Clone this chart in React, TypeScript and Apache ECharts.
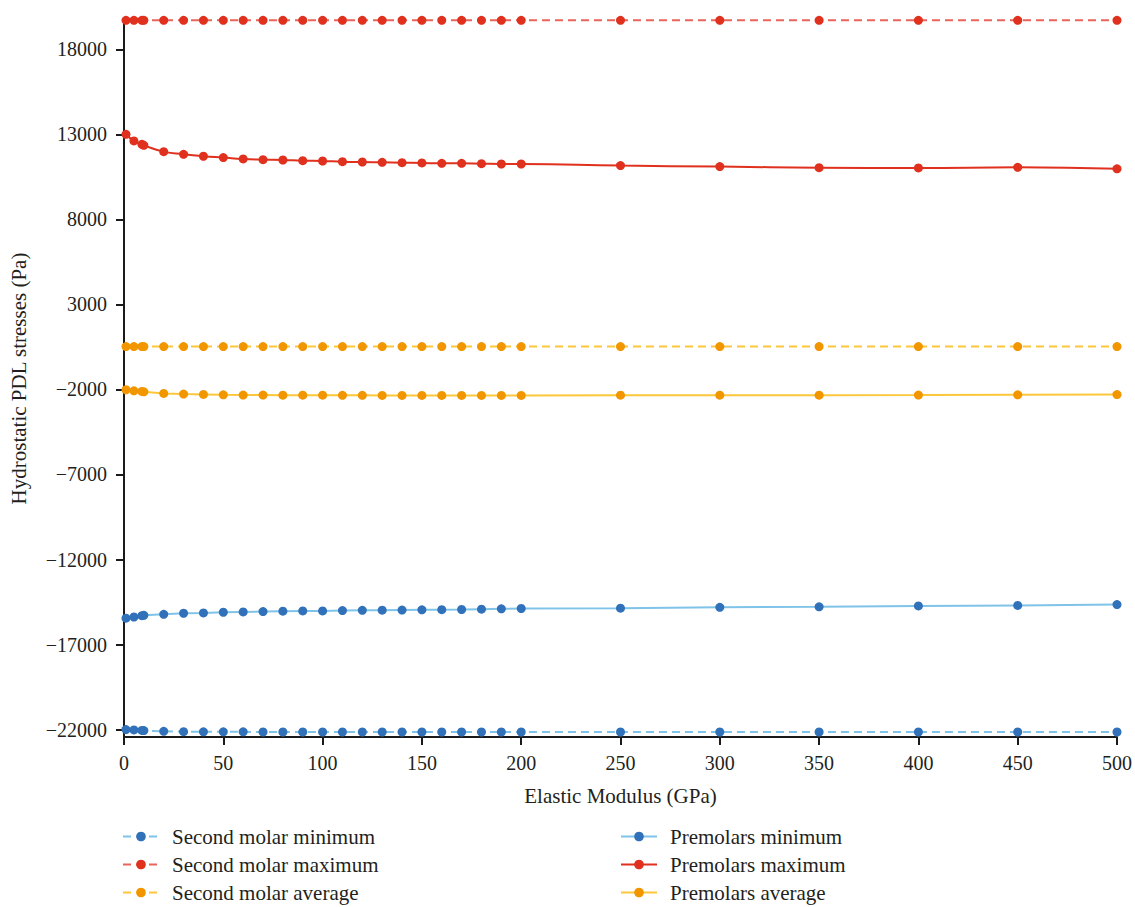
import React, { useEffect, useRef } from "react";
import * as echarts from "echarts";

const xValues = [1, 5, 9, 10, 20, 30, 40, 50, 60, 70, 80, 90, 100, 110, 120, 130, 140, 150, 160, 170, 180, 190, 200, 250, 300, 350, 400, 450, 500];

const secondMolarMin = [-22000, -22020, -22050, -22060, -22100, -22120, -22130, -22130, -22130, -22140, -22140, -22140, -22140, -22140, -22140, -22140, -22140, -22140, -22140, -22140, -22140, -22140, -22140, -22140, -22140, -22140, -22140, -22140, -22140];
const secondMolarMax = [19700, 19700, 19700, 19700, 19700, 19700, 19700, 19700, 19700, 19700, 19700, 19700, 19700, 19700, 19700, 19700, 19700, 19700, 19700, 19700, 19700, 19700, 19700, 19700, 19700, 19700, 19700, 19700, 19700];
const secondMolarAvg = [520, 520, 520, 520, 520, 520, 520, 520, 520, 520, 520, 520, 520, 520, 520, 520, 520, 520, 520, 520, 520, 520, 520, 520, 520, 520, 520, 520, 520];
const premolarsMin = [-15450, -15380, -15300, -15280, -15220, -15160, -15140, -15100, -15080, -15060, -15040, -15020, -15020, -15000, -14990, -14980, -14970, -14960, -14950, -14940, -14920, -14900, -14880, -14860, -14810, -14780, -14730, -14700, -14650];
const premolarsMax = [13000, 12610, 12410, 12350, 11980, 11825, 11710, 11630, 11550, 11510, 11490, 11450, 11430, 11390, 11370, 11350, 11330, 11315, 11295, 11295, 11275, 11255, 11255, 11160, 11100, 11040, 11020, 11060, 10970];
const premolarsAvg = [-2020, -2080, -2120, -2140, -2235, -2275, -2295, -2315, -2330, -2330, -2340, -2340, -2340, -2345, -2345, -2350, -2350, -2350, -2350, -2350, -2350, -2350, -2350, -2340, -2340, -2335, -2330, -2320, -2300];

const yTicks = [-22000, -17000, -12000, -7000, -2000, 3000, 8000, 13000, 18000];

const FONT = "Liberation Serif";
const TEXT = "#231f20";
const AXIS = "#1a1a1a";

const BLUE = "#3071b9";
const BLUE_LINE = "#7fc3e8";
const RED = "#e0301e";
const RED_DASH = "#e8645c";
const ORANGE = "#f29600";
const YELLOW_LINE = "#fcc73a";

function pairs(ys: number[]) {
  return xValues.map((x, i) => [x, ys[i]]);
}

function mkSeries(name: string, ys: number[], marker: string, line: string, dashed: boolean, smooth = false) {
  return {
    name,
    type: "line",
    data: pairs(ys),
    symbol: "circle",
    symbolSize: 9,
    smooth,
    itemStyle: { color: marker },
    lineStyle: { color: line, width: 2, type: dashed ? [8, 5] : "solid" },
    z: 2,
  };
}

export default function App() {
  const ref = useRef<HTMLDivElement>(null);
  useEffect(() => {
    if (!ref.current) return;
    const chart = echarts.init(ref.current, undefined, { renderer: "svg" });
    const legendText = { fontFamily: FONT, fontSize: 21, color: TEXT, padding: [0, 0, 0, 8] };
    const legendBase = {
      orient: "vertical",
      top: 826,
      padding: 0,
      itemWidth: 36,
      itemHeight: 12,
      itemGap: 7,
      textStyle: legendText,
    };
    chart.setOption({
      animation: false,
      textStyle: { fontFamily: FONT },
      grid: { left: 124, right: 16, top: 20, bottom: 170, containLabel: false },
      xAxis: {
        type: "value",
        min: 0,
        max: 500,
        interval: 50,
        name: "Elastic Modulus (GPa)",
        nameLocation: "middle",
        nameGap: 48,
        nameTextStyle: { fontFamily: FONT, fontSize: 21, color: TEXT },
        axisLine: { show: true, onZero: false, lineStyle: { color: AXIS, width: 2 } },
        axisTick: { show: true, length: 8, lineStyle: { color: AXIS, width: 2 } },
        axisLabel: { fontFamily: FONT, fontSize: 20, color: TEXT, margin: 16 },
        splitLine: { show: false },
      },
      yAxis: {
        type: "value",
        min: -22435,
        max: 19720,
        name: "Hydrostatic PDL stresses (Pa)",
        nameLocation: "middle",
        nameGap: 95,
        nameTextStyle: { fontFamily: FONT, fontSize: 21, color: TEXT },
        axisLine: { show: true, onZero: false, lineStyle: { color: AXIS, width: 2 } },
        axisTick: { show: true, length: 8, customValues: yTicks, lineStyle: { color: AXIS, width: 2 } },
        axisLabel: {
          fontFamily: FONT,
          fontSize: 20,
          color: TEXT,
          margin: 17,
          customValues: yTicks,
          formatter: (v: number) => String(v).replace("-", "\u2212"),
        },
        splitLine: { show: false },
      },
      legend: [
        {
          ...legendBase,
          left: 122,
          data: ["Second molar minimum", "Second molar maximum", "Second molar average"],
        },
        {
          ...legendBase,
          left: 620,
          data: ["Premolars minimum", "Premolars maximum", "Premolars average"],
        },
      ],
      series: [
        mkSeries("Second molar minimum", secondMolarMin, BLUE, BLUE_LINE, true),
        mkSeries("Second molar maximum", secondMolarMax, RED, RED_DASH, true),
        mkSeries("Second molar average", secondMolarAvg, ORANGE, YELLOW_LINE, true),
        mkSeries("Premolars minimum", premolarsMin, BLUE, BLUE_LINE, false),
        mkSeries("Premolars maximum", premolarsMax, RED, RED, false, true),
        mkSeries("Premolars average", premolarsAvg, ORANGE, YELLOW_LINE, false),
      ],
    });
    return () => chart.dispose();
  }, []);
  return <div ref={ref} style={{ position: "fixed", left: 0, top: 0, width: 1135, height: 907, background: "#fff" }} />;
}
